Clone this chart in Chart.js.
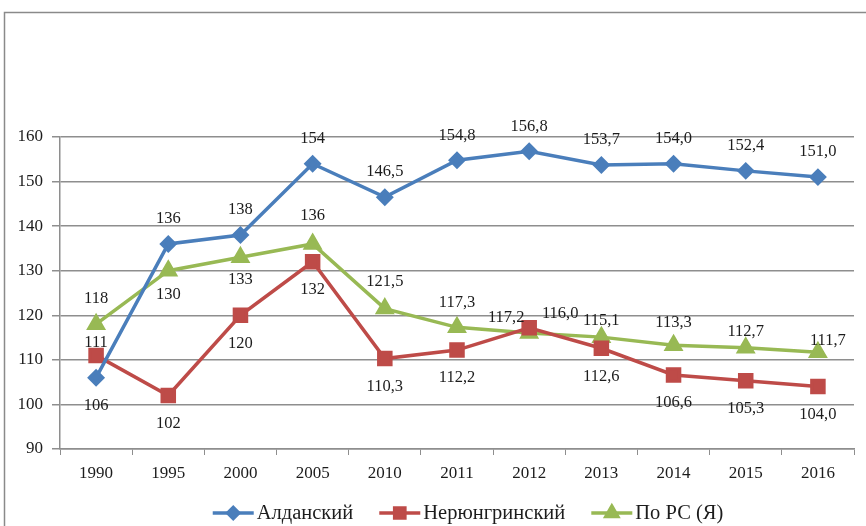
<!DOCTYPE html>
<html>
<head>
<meta charset="utf-8">
<script src="https://cdn.jsdelivr.net/npm/chart.js@4"></script>
<style>
  html, body { margin: 0; padding: 0; background: #fff; }
  #wrap { width: 866px; height: 526px; position: relative; }
</style>
</head>
<body>
<div id="wrap"><canvas id="chart" width="866" height="526"></canvas></div>
<script>
const years = ['1990', '1995', '2000', '2005', '2010', '2011', '2012', '2013', '2014', '2015', '2016']
const aldan = [106, 136, 138, 154, 146.5, 154.8, 156.8, 153.7, 154.0, 152.4, 151.0]
const neryungri = [111, 102, 120, 132, 110.3, 112.2, 117.2, 112.6, 106.6, 105.3, 104.0]
const republic = [118, 130, 133, 136, 121.5, 117.3, 116.0, 115.1, 113.3, 112.7, 111.7]
const yTicks = [90, 100, 110, 120, 130, 140, 150, 160]

const serif = '"Liberation Serif", "Times New Roman", serif'
const textColor = '#1c1c1c'
const gridColor = '#8e8e8e'

// first four years are whole numbers, later ones carry one decimal with a comma
const formatValue = (v, i) => i < 4 ? String(Math.round(v)) : v.toFixed(1).replace('.', ',')

// label placement relative to each point (dx, dy)
const above = [0, -25]
const below = [0, 28]

// Function to draw the outer frame
const framePlugin = {
  id: 'frame',
  beforeDraw(chart) {
    const ctx = chart.ctx
    ctx.save()
    ctx.strokeStyle = '#8a8a8a'
    ctx.lineWidth = 1.5
    ctx.strokeRect(4.5, 12.5, 1000, 1000)
    ctx.restore()
  }
}

// Function to draw value labels next to points
const labelPlugin = {
  id: 'valueLabels',
  afterDatasetsDraw(chart) {
    const ctx = chart.ctx
    ctx.save()
    ctx.font = `16.5px ${serif}`
    ctx.fillStyle = textColor
    ctx.textAlign = 'center'
    ctx.textBaseline = 'middle'
    chart.data.datasets.forEach((ds, di) => {
      const meta = chart.getDatasetMeta(di)
      meta.data.forEach((pt, i) => {
        const [dx, dy] = ds.labelOffsets[i]
        ctx.fillText(formatValue(ds.data[i], i), pt.x + dx, pt.y + dy)
      })
    })
    ctx.restore()
  }
}

// Function to draw the legend (line with marker, then the name)
const legendPlugin = {
  id: 'lineLegend',
  afterDraw(chart) {
    const ctx = chart.ctx
    ctx.save()
    ctx.font = `20.5px ${serif}`
    const lineLen = 41, gap = 3, spacing = 26
    const items = chart.data.datasets.map(ds => ({ ds, w: ctx.measureText(ds.label).width }))
    const total = items.reduce((s, it) => s + lineLen + gap + it.w, 0) + spacing * (items.length - 1)
    let x = 468 - total / 2
    const y = 513
    items.forEach(({ ds, w }) => {
      ctx.strokeStyle = ds.borderColor
      ctx.lineWidth = 3.5
      ctx.beginPath()
      ctx.moveTo(x, y)
      ctx.lineTo(x + lineLen, y)
      ctx.stroke()
      Chart.helpers.drawPoint(ctx, {
        pointStyle: ds.pointStyle,
        radius: ds.pointRadius * 0.85,
        borderWidth: 1
      }, x + lineLen / 2, y)
      ctx.fillStyle = ds.borderColor
      ctx.fill()
      ctx.fillStyle = textColor
      ctx.textAlign = 'left'
      ctx.textBaseline = 'middle'
      ctx.fillText(ds.label, x + lineLen + gap, y + 1)
      x += lineLen + gap + w + spacing
    })
    ctx.restore()
  }
}

const makeSeries = (label, data, color, pointStyle, pointRadius, labelOffsets) => ({
  label,
  data,
  borderColor: color,
  backgroundColor: color,
  pointBackgroundColor: color,
  pointBorderColor: color,
  borderWidth: 3.5,
  pointStyle,
  pointRadius,
  pointHoverRadius: pointRadius,
  tension: 0,
  labelOffsets
})

const ctx = document.getElementById('chart').getContext('2d')
new Chart(ctx, {
  type: 'line',
  data: {
    labels: years,
    datasets: [
      makeSeries('Алданский', aldan, '#4a7ebb', 'rectRot', 6.5,
        [below, above, above, above, above, above, above, above, above, above, above]),
      makeSeries('Нерюнгринский', neryungri, '#be4b48', 'rect', 8.5,
        [[0, -13], below, below, below, below, below, [-23, -10], below, below, below, below]),
      makeSeries('По РС (Я)', republic, '#98b954', 'triangle', 8,
        [[0, -26], [0, 24], [0, 22], [0, -28], [0, -27], above, [31, -19], [0, -16], [0, -22], [0, -16], [10, -12]])
    ]
  },
  options: {
    responsive: false,
    animation: false,
    layout: { padding: { left: 0, top: 137, right: 8, bottom: 0 } },
    plugins: {
      legend: { display: false },
      tooltip: { enabled: false }
    },
    scales: {
      x: {
        offset: true,
        grid: { display: true, offset: true, drawOnChartArea: false, drawTicks: true, tickLength: 6, color: gridColor, lineWidth: 1 },
        border: { display: true, color: gridColor, width: 1.5 },
        ticks: { color: textColor, font: { family: serif, size: 17 }, padding: 8, maxRotation: 0 },
        afterFit: (scale) => { scale.height = 77 }
      },
      y: {
        min: 90,
        max: 160,
        afterBuildTicks: (scale) => { scale.ticks = yTicks.map(v => ({ value: v })) },
        grid: { color: gridColor, lineWidth: 1.5, tickLength: 8, drawTicks: true },
        border: { display: true, color: gridColor, width: 1.5 },
        ticks: { color: textColor, font: { family: serif, size: 17 }, padding: 9 },
        afterFit: (scale) => { scale.width = 60 }
      }
    }
  },
  plugins: [framePlugin, labelPlugin, legendPlugin]
})
</script>
</body>
</html>
